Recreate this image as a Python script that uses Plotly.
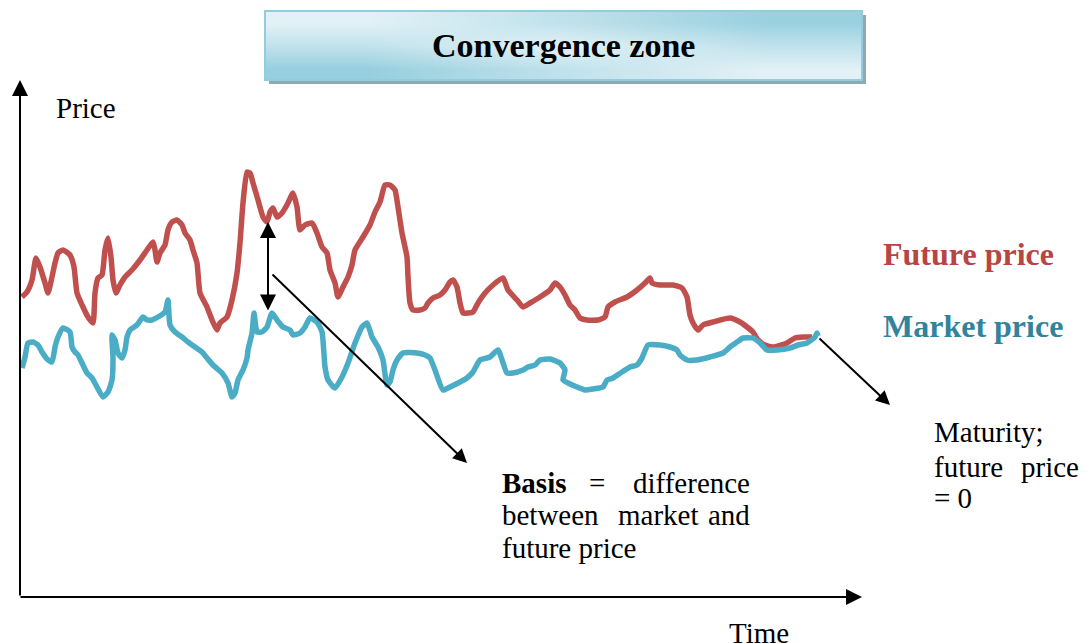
import plotly.graph_objects as go

# ── Data (time vs price, arbitrary units) ──
future_t = [22, 27, 32, 36, 40, 45, 48, 52, 55, 58,
            63, 70, 74, 77, 83, 88, 93, 95, 98, 102,
            105, 108, 111, 113, 116, 120, 125, 132, 140, 147,
            153, 155, 157, 160, 165, 168, 172, 177, 182, 185,
            190, 193, 197, 200, 207, 212, 217, 220, 227, 232,
            237, 240, 243, 247, 250, 253, 258, 263, 267, 270,
            273, 277, 282, 288, 293, 297, 300, 305, 312, 317,
            322, 327, 330, 335, 338, 343, 348, 352, 355, 363,
            370, 375, 380, 385, 390, 395, 398, 402, 407, 408,
            410, 413, 420, 425, 428, 433, 440, 445, 450, 453,
            457, 460, 463, 468, 473, 478, 485, 493, 503, 508,
            517, 523, 530, 540, 550, 555, 560, 565, 570, 575,
            580, 587, 598, 605, 608, 615, 627, 637, 645, 650,
            652, 660, 673, 682, 687, 690, 693, 698, 703, 713,
            730, 740, 747, 753, 758, 765, 773, 787, 795, 803,
            812]
future_price = [346, 351, 363, 385, 376, 360, 350, 366, 380, 390,
                393, 388, 376, 350, 336, 326, 320, 350, 365, 368,
                393, 405, 386, 363, 350, 358, 366, 373, 383, 393,
                401, 393, 381, 390, 398, 413, 421, 423, 418, 410,
                403, 393, 380, 350, 336, 323, 313, 320, 326, 343,
                370, 400, 440, 471, 470, 460, 443, 426, 421, 431,
                435, 426, 430, 440, 450, 436, 413, 418, 420, 410,
                396, 390, 373, 360, 346, 356, 366, 378, 393, 406,
                418, 431, 441, 458, 458, 453, 436, 410, 386, 366,
                340, 333, 333, 335, 340, 345, 348, 353, 361, 363,
                356, 340, 330, 330, 331, 340, 350, 358, 365, 353,
                343, 336, 340, 346, 353, 360, 356, 348, 338, 333,
                325, 323, 323, 326, 336, 341, 346, 353, 360, 365,
                360, 358, 358, 355, 346, 328, 320, 313, 318, 321,
                325, 321, 316, 311, 303, 298, 296, 300, 305, 306,
                306]

market_t = [22, 25, 28, 33, 38, 42, 47, 52, 55, 58,
            63, 70, 72, 75, 78, 82, 87, 92, 97, 103,
            108, 112, 113, 112, 115, 118, 122, 125, 127, 130,
            137, 143, 147, 152, 158, 165, 168, 170, 175, 182,
            188, 195, 202, 207, 213, 222, 228, 232, 235, 238,
            243, 247, 248, 252, 254, 257, 262, 267, 272, 277,
            283, 290, 293, 300, 305, 310, 317, 322, 325, 328,
            335, 342, 348, 355, 362, 367, 372, 378, 383, 387,
            390, 393, 397, 403, 417, 425, 430, 435, 443, 450,
            460, 467, 473, 480, 490, 498, 507, 513, 523, 528,
            535, 540, 550, 560, 565, 563, 568, 577, 585, 593,
            603, 607, 613, 622, 630, 637, 642, 648, 660, 670,
            677, 680, 687, 697, 710, 723, 730, 737, 743, 753,
            760, 767, 777, 790, 798, 807, 815, 817, 818]
market_price = [275, 286, 300, 301, 298, 291, 284, 281, 296, 306,
                315, 311, 296, 291, 288, 280, 270, 265, 256, 246,
                251, 263, 285, 308, 303, 290, 285, 293, 306, 313,
                318, 326, 323, 323, 326, 331, 343, 318, 311, 306,
                301, 296, 291, 285, 278, 270, 260, 246, 250, 263,
                273, 285, 293, 310, 330, 311, 311, 316, 330, 323,
                316, 313, 308, 310, 316, 325, 321, 311, 276, 263,
                255, 266, 280, 300, 316, 320, 306, 296, 283, 258,
                261, 273, 283, 290, 290, 288, 285, 273, 253, 256,
                261, 265, 271, 283, 286, 293, 270, 270, 273, 276,
                278, 283, 284, 280, 273, 263, 260, 256, 253, 254,
                256, 263, 265, 271, 276, 278, 285, 298, 298, 296,
                293, 288, 283, 283, 286, 290, 296, 301, 305, 305,
                300, 293, 293, 295, 298, 300, 306, 310, 307]

RED = '#c0504d'
BLUE = '#4bacc6'
RED_TXT = '#b84543'
BLUE_TXT = '#31849b'
SERIF = 'Liberation Serif'

fig = go.Figure()

# ── Title box: shadow + gradient fill (heatmap) + border ──
box_x = [364.5, 563.5, 762.5]
box_y = [574.5, 597.5, 620.5]
box_z = [[0.1, 0.6, 1.0],
         [0.6, 1.0, 0.6],
         [1.0, 0.6, 0.15]]
fig.add_trace(go.Heatmap(x=box_x, y=box_y, z=box_z, zsmooth='best',
                         colorscale=[[0, '#96cfde'], [1, '#e2f1f6']],
                         showscale=False, hoverinfo='skip'))
fig.add_shape(type='rect', x0=269, x1=866, y0=559, y1=628, layer='below',
              fillcolor='#8fa8b3', line=dict(width=0))
fig.add_shape(type='rect', x0=265, x1=862, y0=563, y1=632, layer='above',
              fillcolor='rgba(0,0,0,0)', line=dict(color='#93cddd', width=2))

# ── Price lines ──
fig.add_trace(go.Scatter(x=future_t, y=future_price, mode='lines',
                         line=dict(color=RED, width=5.5, shape='spline', smoothing=0.5),
                         name='Future price'))
fig.add_trace(go.Scatter(x=market_t, y=market_price, mode='lines',
                         line=dict(color=BLUE, width=5.5, shape='spline', smoothing=0.5),
                         name='Market price'))

def arrow(x, y, ax, ay, both=False, size=1.6):
    fig.add_annotation(x=x, y=y, ax=ax, ay=ay, xref='x', yref='y', axref='x', ayref='y',
                       text='', showarrow=True, arrowhead=2, arrowsize=size, arrowwidth=2,
                       arrowcolor='black', standoff=0, startstandoff=0,
                       arrowside='end+start' if both else 'end', startarrowhead=2,
                       startarrowsize=size)

# axes
arrow(20, 563, 20, 46)
arrow(862, 46, 19, 46)
# basis
arrow(268, 421, 268, 331, both=True)
arrow(467, 180, 271, 370, size=1.4)
# maturity
arrow(890, 238, 818, 306, size=1.4)

def label(x, y, text, size=29, color='black', bold=False, anchor='left'):
    if bold:
        text = '<b>' + text + '</b>'
    fig.add_annotation(x=x, y=y, xref='x', yref='y', text=text, showarrow=False,
                       xanchor=anchor, yanchor='middle',
                       font=dict(family=SERIF, size=size, color=color))

label(563.5, 598, 'Convergence zone', size=34, bold=True, anchor='center')
label(54, 535, 'Price')
label(727, 10, 'Time')
label(881, 389, 'Future price', size=32, color=RED_TXT, bold=True)
label(881, 317, 'Market price', size=32, color=BLUE_TXT, bold=True)

# justified basis text
label(500, 160, 'Basis', bold=True)
label(597, 160, '=', anchor='center')
label(752, 160, 'difference', anchor='right')
label(500, 128, 'between')
label(658, 128, 'market', anchor='center')
label(752, 128, 'and', anchor='right')
label(500, 95, 'future price')

label(932, 211, 'Maturity;')
label(932, 176, 'future')
label(1081, 176, 'price', anchor='right')
label(932, 145, '= 0')

# page body adds an 8px offset; size and ranges set so the figure fits the window
fig.update_xaxes(range=[8, 1091], visible=False, fixedrange=True)
fig.update_yaxes(range=[0, 635], visible=False, fixedrange=True)
fig.update_layout(width=1083, height=635, margin=dict(l=0, r=0, t=0, b=0),
                  plot_bgcolor='white', paper_bgcolor='white', showlegend=False)

fig.write_html("out.html")
